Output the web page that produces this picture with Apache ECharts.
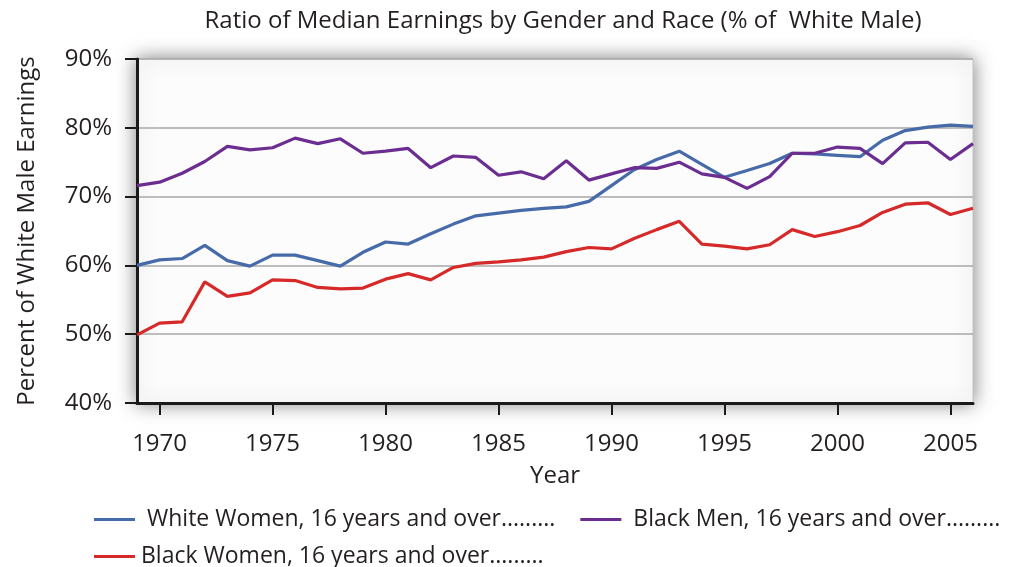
<!DOCTYPE html>
<html>
<head>
<meta charset="utf-8">
<script src="https://cdn.jsdelivr.net/npm/echarts@6/dist/echarts.min.js"></script>
<style>
  html, body { margin: 0; padding: 0; background: #fff; }
  #myChart { width: 1021px; height: 567px; }
</style>
</head>
<body>
<div id="myChart"></div>
<script>
var years = ['1969', '1970', '1971', '1972', '1973', '1974', '1975', '1976', '1977', '1978',
  '1979', '1980', '1981', '1982', '1983', '1984', '1985', '1986', '1987', '1988',
  '1989', '1990', '1991', '1992', '1993', '1994', '1995', '1996', '1997', '1998',
  '1999', '2000', '2001', '2002', '2003', '2004', '2005', '2006'];
var tickYears = ['1970', '1975', '1980', '1985', '1990', '1995', '2000', '2005'];

var whiteWomen = [60.0, 60.8, 61.0, 62.9, 60.7, 59.9, 61.5, 61.5, 60.7, 59.9,
  61.9, 63.4, 63.1, 64.6, 66.0, 67.2, 67.6, 68.0, 68.3, 68.5,
  69.3, 71.6, 73.9, 75.4, 76.6, 74.7, 72.8, 73.8, 74.8, 76.3,
  76.2, 76.0, 75.8, 78.2, 79.6, 80.1, 80.4, 80.2];
var blackMen = [71.6, 72.1, 73.4, 75.1, 77.3, 76.8, 77.1, 78.5, 77.7, 78.4,
  76.3, 76.6, 77.0, 74.2, 75.9, 75.7, 73.1, 73.6, 72.6, 75.2,
  72.4, 73.3, 74.2, 74.1, 75.0, 73.3, 72.8, 71.2, 72.9, 76.3,
  76.3, 77.2, 77.0, 74.8, 77.8, 77.9, 75.4, 77.7];
var blackWomen = [49.9, 51.6, 51.8, 57.6, 55.5, 56.0, 57.9, 57.8, 56.8, 56.6,
  56.7, 58.0, 58.8, 57.9, 59.7, 60.3, 60.5, 60.8, 61.2, 62.0,
  62.6, 62.4, 63.9, 65.2, 66.4, 63.1, 62.8, 62.4, 63.0, 65.2,
  64.2, 64.9, 65.8, 67.7, 68.9, 69.1, 67.4, 68.3];

var names = ['White Women, 16 years and over.........',
  'Black Men, 16 years and over.........',
  'Black Women, 16 years and over.........'];

var font = 'Open Sans';
var ink = '#231f20';

var myChart = echarts.init(document.getElementById('myChart'));

// only every fifth year gets a tick and a label
function isTick(idx, val) {
  return tickYears.indexOf(val) >= 0;
}

var lineSeries = function (name, data, color) {
  return {
    name: name,
    type: 'line',
    data: data,
    symbol: 'none',
    color: color,
    lineStyle: { width: 3.2, color: color },
    animation: false
  };
};

myChart.setOption({
  backgroundColor: '#fff',
  title: {
    text: 'Ratio of Median Earnings by Gender and Race (% of  White Male)',
    left: 558,
    top: 4,
    textAlign: 'center',
    textStyle: { fontFamily: font, fontSize: 24, fontWeight: 'normal', color: ink }
  },
  legend: [
    {
      data: [names[0], names[1]],
      left: 89,
      top: 503,
      width: 930,
      icon: 'rect',
      itemWidth: 41,
      itemHeight: 3,
      itemGap: 25,
      textStyle: { fontFamily: font, fontSize: 23, color: ink, padding: [0, 0, 0, 7] }
    },
    {
      data: [names[2]],
      left: 89,
      top: 540,
      width: 930,
      icon: 'rect',
      itemWidth: 41,
      itemHeight: 3,
      textStyle: { fontFamily: font, fontSize: 23, color: ink, padding: [0, 0, 0, 1] }
    }
  ],
  grid: {
    left: 137,
    top: 59,
    right: 48,
    bottom: 164,
    show: true,
    backgroundColor: '#fcfcfc',
    borderColor: '#c4c4c4',
    borderWidth: 1,
    shadowBlur: 18,
    shadowColor: 'rgba(0,0,0,0.5)'
  },
  xAxis: {
    type: 'category',
    data: years,
    boundaryGap: false,
    name: 'Year',
    nameLocation: 'middle',
    nameGap: 61,
    nameTextStyle: { fontFamily: font, fontSize: 24, color: ink },
    axisLine: { lineStyle: { color: '#1a1a1a', width: 3 } },
    axisTick: { interval: isTick, length: 12, lineStyle: { color: '#1a1a1a', width: 2 } },
    axisLabel: { interval: isTick, margin: 29, fontFamily: font, fontSize: 24, color: ink },
    splitLine: { show: false }
  },
  yAxis: {
    type: 'value',
    min: 40,
    max: 90,
    interval: 10,
    name: 'Percent of White Male Earnings',
    nameLocation: 'middle',
    nameGap: 98,
    nameTextStyle: { fontFamily: font, fontSize: 24, color: ink },
    axisLine: { show: true, lineStyle: { color: '#1a1a1a', width: 3 } },
    axisTick: { show: true, length: 12, lineStyle: { color: '#1a1a1a', width: 2 } },
    axisLabel: { formatter: '{value}%', margin: 25, fontFamily: font, fontSize: 24, color: ink },
    splitLine: { show: true, lineStyle: { color: '#a8a8a8', width: 1.5 } }
  },
  series: [
    lineSeries(names[0], whiteWomen, '#476aa8'),
    lineSeries(names[1], blackMen, '#6b2d90'),
    lineSeries(names[2], blackWomen, '#d62a2a')
  ]
});
</script>
</body>
</html>
